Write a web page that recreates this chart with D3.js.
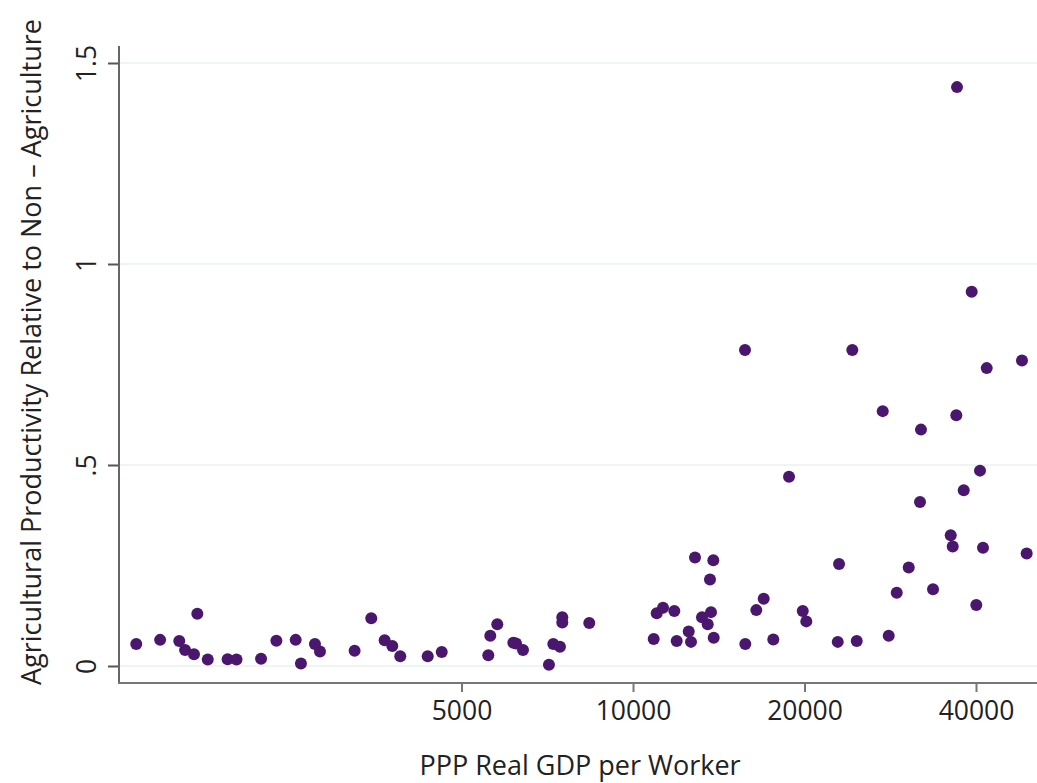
<!DOCTYPE html>
<html>
<head>
<meta charset="utf-8">
<script src="https://cdn.jsdelivr.net/npm/d3@7"></script>
<style>
  body { margin: 0; background: #fff; }
  svg { display: block; font-family: "Open Sans", sans-serif; }
  .tick text { fill: #222; }
</style>
</head>
<body>
<svg width="1037" height="783"></svg>
<script>
// GDP per worker (PPP) and relative agricultural productivity
var gdp = [1343, 1479, 1598, 1636, 1696, 1719, 1793, 1943, 2014, 2224,
    2366, 2558, 2613, 2765, 2822, 3246, 3472, 3665, 3780, 3904,
    4362, 4616, 5572, 5617, 5778, 6165, 6233, 6411, 7120, 7246,
    7444, 7514, 7514, 8380, 10873, 11006, 11290, 11817, 11932, 12525,
    12642, 13216, 13650, 13706, 13525, 13857, 15744, 16460, 16959, 17631,
    15726, 24262, 41772, 48170, 27437, 36940, 32026, 18787, 40652, 38065,
    31899, 36115, 36407, 41146, 49093, 12848, 13835, 22996, 30476, 29036,
    33621, 40047, 19859, 20146, 22875, 24700, 28110, 37046, 39310];

var relProd = [0.055, 0.065, 0.062, 0.040, 0.029, 0.130, 0.016, 0.017, 0.016, 0.018,
    0.063, 0.065, 0.006, 0.055, 0.036, 0.038, 0.119, 0.064, 0.050, 0.024,
    0.024, 0.035, 0.027, 0.075, 0.104, 0.058, 0.056, 0.040, 0.003, 0.055,
    0.048, 0.121, 0.108, 0.107, 0.067, 0.131, 0.145, 0.137, 0.062, 0.086,
    0.060, 0.121, 0.215, 0.134, 0.104, 0.070, 0.055, 0.139, 0.167, 0.066,
    0.786, 0.786, 0.741, 0.760, 0.634, 0.624, 0.588, 0.471, 0.486, 0.437,
    0.408, 0.325, 0.297, 0.294, 0.280, 0.270, 0.263, 0.254, 0.245, 0.182,
    0.191, 0.152, 0.137, 0.111, 0.060, 0.062, 0.075, 1.440, 0.931];

var xTicks = [5000, 10000, 20000, 40000];
var yTicks = [0, 0.5, 1, 1.5];
var yTickLabels = ["0", ".5", "1", "1.5"];

var svg = d3.select("svg"),
    width = +svg.attr("width"),
    height = +svg.attr("height");

var axisX = 119, axisY = 683, axisTop = 46;

var x = d3.scaleLog()
    .domain([5000, 40000])
    .range([461.5, 976]);

var y = d3.scaleLinear()
    .domain([0, 1.5])
    .range([666, 63]);

// light gridlines
svg.append("g")
    .selectAll("line")
    .data(yTicks)
    .enter().append("line")
    .attr("x1", axisX)
    .attr("x2", width)
    .attr("y1", function (d) { return y(d); })
    .attr("y2", function (d) { return y(d); })
    .attr("stroke", "#eff5f5")
    .attr("stroke-width", 2);

// axes
var gx = svg.append("g")
    .attr("transform", "translate(0," + axisY + ")")
    .call(d3.axisBottom(x)
        .tickValues(xTicks)
        .tickFormat(d3.format("d"))
        .tickSize(9)
        .tickPadding(9));
gx.select(".domain").remove();
gx.selectAll(".tick line").attr("stroke", "#777").attr("stroke-width", 2);
gx.selectAll(".tick text").attr("font-size", 26.5).attr("font-family", "Open Sans");

var gy = svg.append("g")
    .attr("transform", "translate(" + axisX + ",0)")
    .call(d3.axisLeft(y)
        .tickValues(yTicks)
        .tickFormat(function (d, i) { return yTickLabels[i]; })
        .tickSize(11));
gy.select(".domain").remove();
gy.selectAll(".tick line").attr("stroke", "#555").attr("stroke-width", 2);
gy.selectAll(".tick text")
    .attr("font-size", 26.5)
    .attr("font-family", "Open Sans")
    .attr("text-anchor", "middle")
    .attr("dy", null)
    .attr("x", null)
    .attr("transform", "translate(-23,0) rotate(-90)");

svg.append("line")
    .attr("x1", axisX).attr("x2", axisX)
    .attr("y1", axisTop).attr("y2", axisY + 1)
    .attr("stroke", "#666").attr("stroke-width", 2);
svg.append("line")
    .attr("x1", axisX - 1).attr("x2", width)
    .attr("y1", axisY).attr("y2", axisY)
    .attr("stroke", "#777").attr("stroke-width", 2);

// points
svg.append("g")
    .selectAll("circle")
    .data(gdp)
    .enter().append("circle")
    .attr("cx", function (d) { return x(d); })
    .attr("cy", function (d, i) { return y(relProd[i]); })
    .attr("r", 6)
    .attr("fill", "#4b176e");

// titles
svg.append("text")
    .attr("x", 580)
    .attr("y", 775)
    .attr("text-anchor", "middle")
    .attr("font-size", 27)
    .attr("fill", "#222")
    .text("PPP Real GDP per Worker");

svg.append("text")
    .attr("transform", "translate(41,352) rotate(-90)")
    .attr("text-anchor", "middle")
    .attr("font-size", 27)
    .attr("fill", "#222")
    .text("Agricultural Productivity Relative to Non \u2013 Agriculture");
</script>
</body>
</html>
